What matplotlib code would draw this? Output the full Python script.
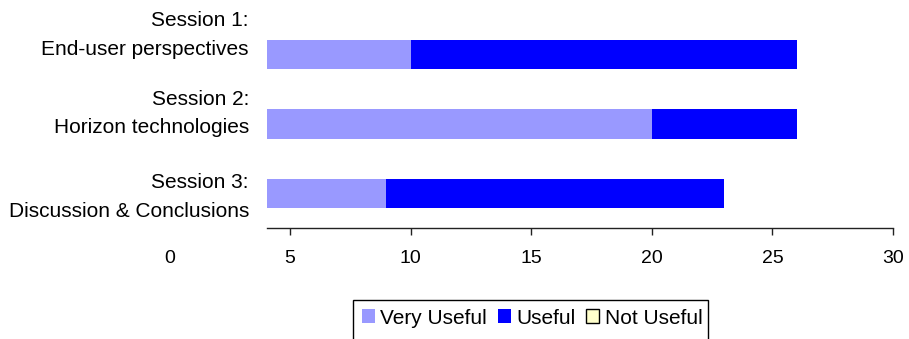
import matplotlib.pyplot as plt
from matplotlib.patches import Patch, Rectangle

plt.rcParams['font.family'] = ['Liberation Sans', 'DejaVu Sans']

# survey results per session
sessions = [("Session 1:", "End-user perspectives"),
            ("Session 2:", "Horizon technologies"),
            ("Session 3:", "Discussion & Conclusions")]
very_useful = [10, 20, 9]
useful = [16, 6, 14]
not_useful = [0, 0, 0]
series_names = ["Very Useful", "Useful", "Not Useful"]
series_colors = ["#9999FF", "#0000FF", "#FFFFCC"]
x_ticks = [0, 5, 10, 15, 20, 25, 30]

W, H = 909, 339
fig = plt.figure(figsize=(W / 100, H / 100), dpi=100)
ax = fig.add_axes([267 / W, 1 - 228 / H, 626 / W, 208 / H])

ypos = list(range(len(sessions)))
left = [0] * len(sessions)
for vals, col in zip([very_useful, useful, not_useful], series_colors):
    ax.barh(ypos, vals, left=left, height=0.42, color=col, linewidth=0)
    left = [a + b for a, b in zip(left, vals)]

ax.set_ylim(2.5, -0.5)
# the category labels sit over the start of the value axis
ax.set_xlim(4.05, 30)
ax.set_xticks(x_ticks[1:])
ax.set_xticklabels([str(t) for t in x_ticks[1:]], fontsize=14)
ax.tick_params(axis='x', direction='out', length=5, width=1, pad=11, colors='#222222')
ax.tick_params(axis='x', labelcolor='black')
ax.text(x_ticks[0], -0.145, str(x_ticks[0]), transform=ax.get_xaxis_transform(),
        ha='center', va='center', fontsize=14, clip_on=False)
ax.set_yticks([])
for s in ['top', 'right', 'left']:
    ax.spines[s].set_visible(False)
ax.spines['bottom'].set_color('#222222')
ax.spines['bottom'].set_linewidth(1)

# two-line category labels, right aligned left of the bars
baselines = [(26, 55), (105, 133), (188, 217)]
for (l1, l2), (b1, b2) in zip(sessions, baselines):
    fig.text(249 / W, 1 - b1 / H, l1, ha='right', va='baseline', fontsize=15)
    fig.text(249 / W, 1 - b2 / H, l2, ha='right', va='baseline', fontsize=15)

# legend box runs off the bottom edge of the figure
fig.patches.append(Rectangle((353 / W, -0.1), 355 / W, 0.1 + 1 - 300 / H,
                             transform=fig.transFigure, facecolor='white',
                             edgecolor='black', linewidth=1, zorder=0))
handles = [Patch(facecolor=c, edgecolor='black' if n == "Not Useful" else 'none', linewidth=1)
           for n, c in zip(series_names, series_colors)]
fig.legend(handles, series_names, loc='center', ncol=3,
           bbox_to_anchor=(532 / W, 1 - 318 / H), fontsize=15,
           handlelength=0.65, handleheight=0.65, handletextpad=0.25,
           columnspacing=0.5, borderpad=0, borderaxespad=0, frameon=False)

fig.savefig('out.png', dpi=100)
